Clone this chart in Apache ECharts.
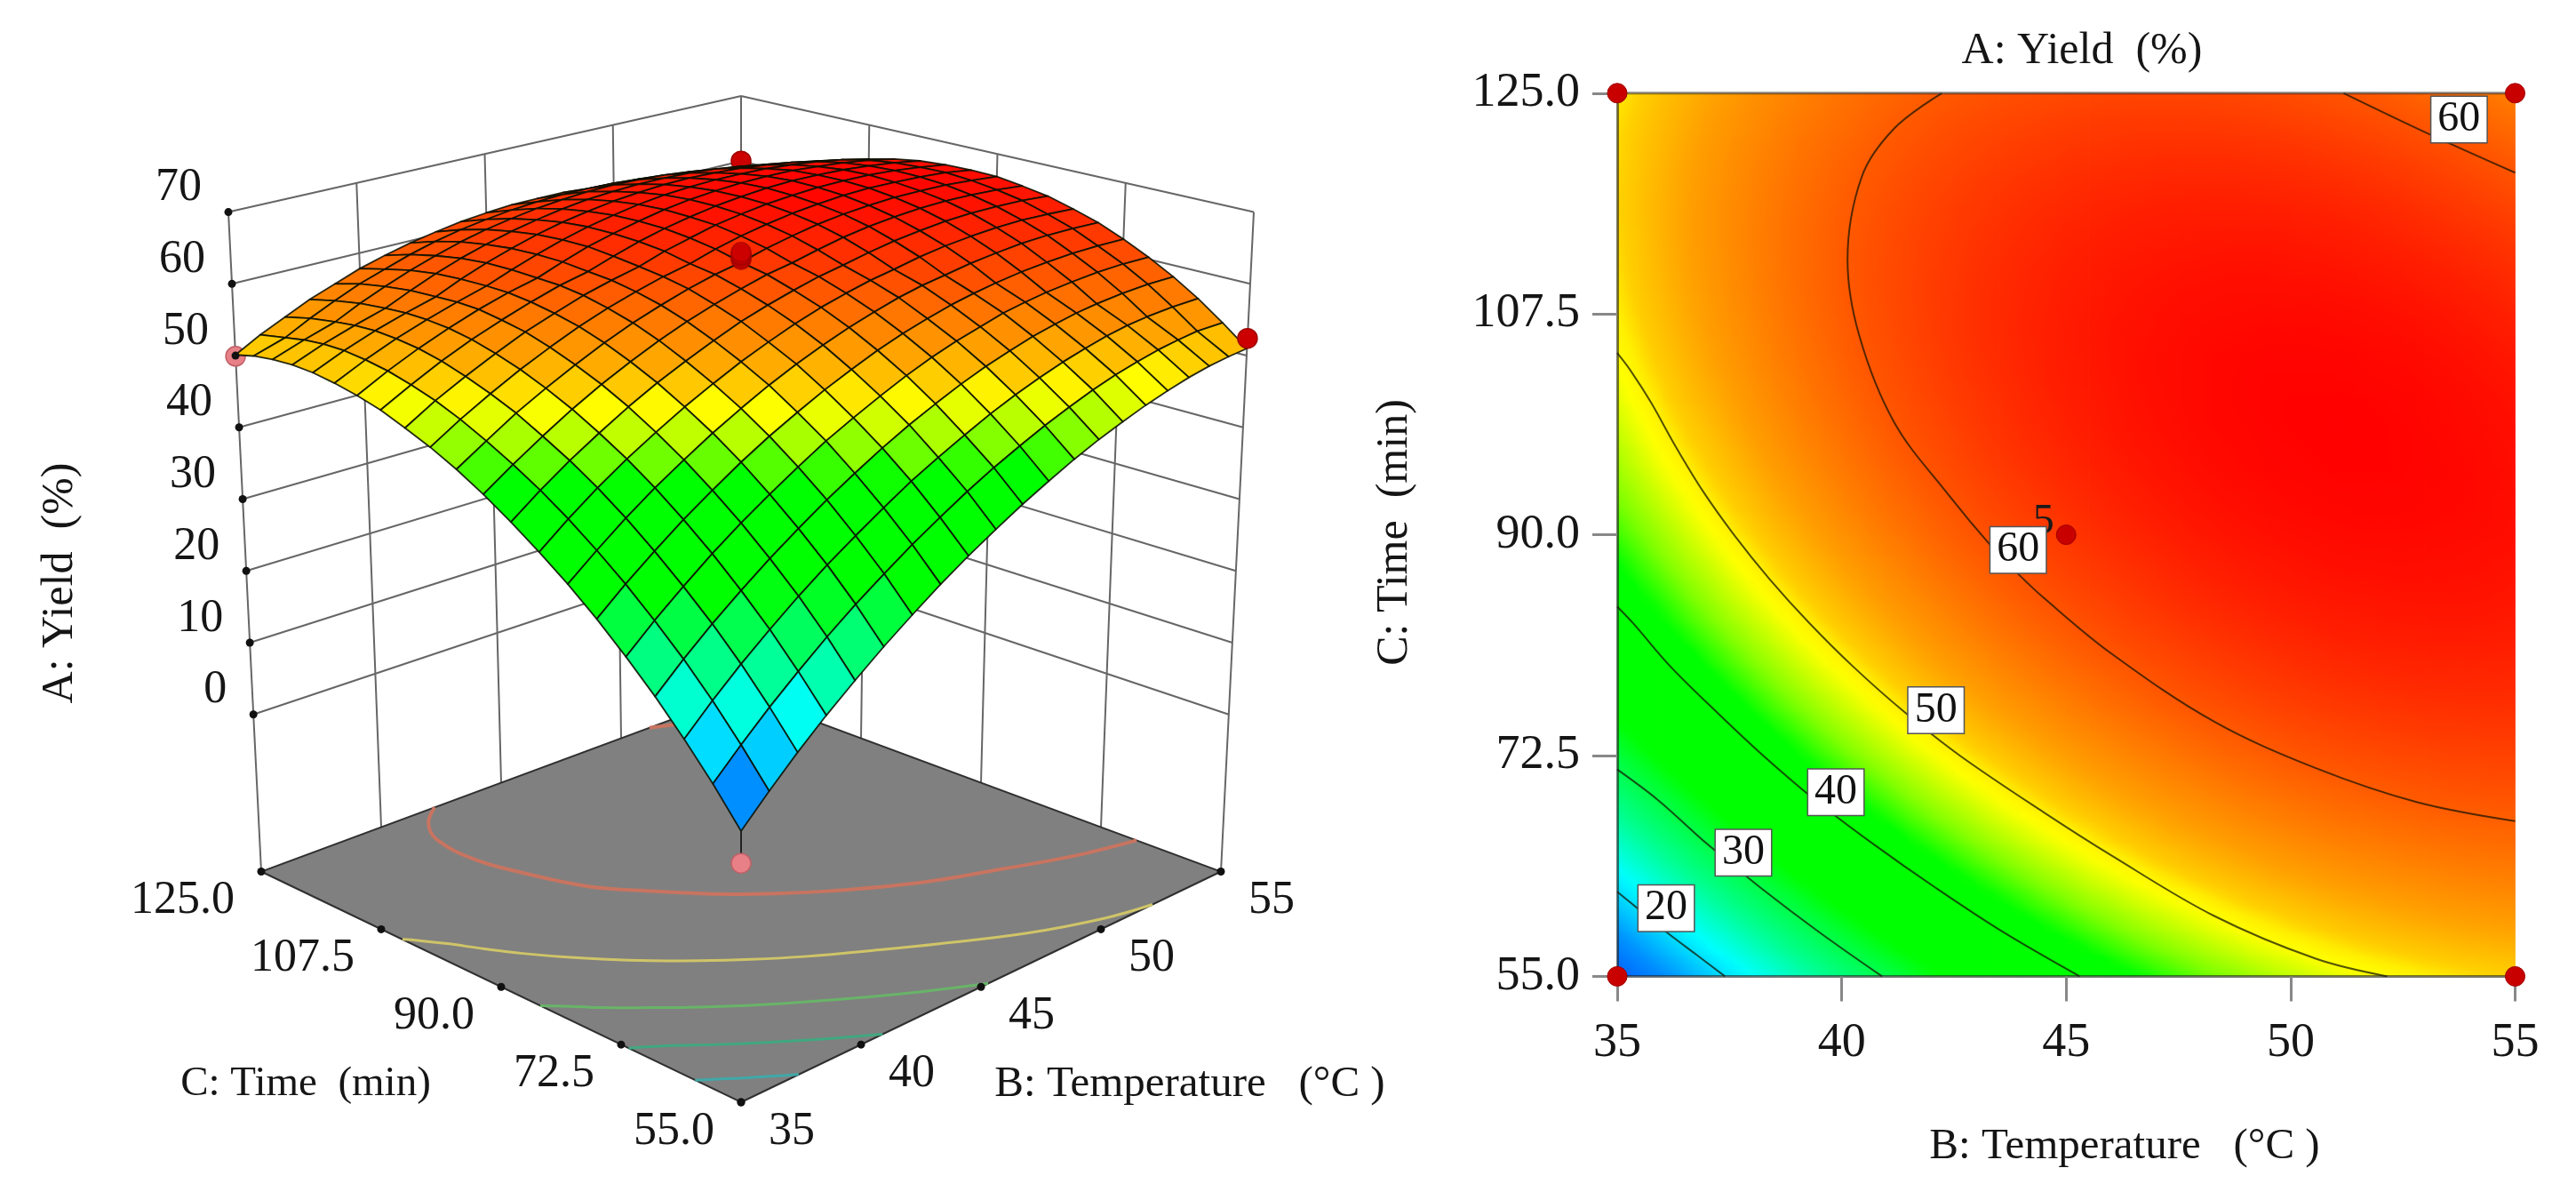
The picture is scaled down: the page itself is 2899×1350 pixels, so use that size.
<!DOCTYPE html>
<html>
<head>
<meta charset="utf-8">
<style>html,body{margin:0;padding:0;background:#fff}#c{width:2899px;height:1350px}</style>
<script src="https://cdn.jsdelivr.net/npm/echarts@6/dist/echarts.min.js"></script>
</head>
<body>
<div id="c"></div>
<script>
// ---------- values ----------
const tempTicks = [35, 40, 45, 50, 55];
const timeTicks = [55.0, 72.5, 90.0, 107.5, 125.0];
const yieldTicks = [0, 10, 20, 30, 40, 50, 60, 70];

// Yield (%) on a 41 x 41 lattice: rows run Time 55 -> 125 (step 1.75), columns Temperature 35 -> 55 (step 0.5)
const yieldGrid = [
[11.0,12.8,14.5,16.2,17.9,19.5,21.1,22.6,24.1,25.6,27.0,28.4,29.7,31.0,32.3,33.5,34.7,35.8,36.9,38.0,39.0,40.0,40.9,41.8,42.7,43.5,44.3,45.0,45.7,46.4,47.0,47.6,48.1,48.6,49.1,49.5,49.9,50.2,50.5,50.8,51.0],
[13.2,15.0,16.7,18.4,20.0,21.6,23.2,24.7,26.2,27.6,29.0,30.4,31.7,33.0,34.2,35.4,36.6,37.7,38.8,39.8,40.8,41.8,42.7,43.6,44.4,45.2,46.0,46.7,47.4,48.0,48.6,49.2,49.7,50.2,50.6,51.0,51.4,51.7,52.0,52.2,52.4],
[15.4,17.1,18.8,20.5,22.1,23.7,25.2,26.7,28.2,29.6,31.0,32.3,33.6,34.9,36.1,37.3,38.4,39.5,40.6,41.6,42.6,43.5,44.4,45.3,46.1,46.9,47.6,48.3,49.0,49.6,50.2,50.7,51.2,51.7,52.1,52.5,52.8,53.1,53.4,53.6,53.7],
[17.5,19.2,20.9,22.5,24.1,25.7,27.2,28.7,30.1,31.5,32.9,34.2,35.5,36.7,37.9,39.0,40.2,41.2,42.3,43.3,44.2,45.2,46.0,46.9,47.7,48.4,49.1,49.8,50.5,51.0,51.6,52.1,52.6,53.0,53.4,53.8,54.1,54.4,54.6,54.8,55.0],
[19.5,21.2,22.9,24.5,26.1,27.6,29.1,30.6,32.0,33.4,34.7,36.0,37.2,38.5,39.6,40.8,41.9,42.9,43.9,44.9,45.8,46.8,47.6,48.4,49.2,49.9,50.6,51.3,51.9,52.5,53.0,53.5,54.0,54.4,54.8,55.1,55.4,55.7,55.9,56.1,56.2],
[21.5,23.2,24.8,26.4,28.0,29.5,31.0,32.4,33.8,35.1,36.5,37.7,39.0,40.2,41.3,42.4,43.5,44.5,45.5,46.5,47.4,48.3,49.1,49.9,50.7,51.4,52.1,52.7,53.3,53.9,54.4,54.8,55.3,55.7,56.0,56.4,56.6,56.9,57.1,57.2,57.3],
[23.4,25.0,26.7,28.2,29.8,31.3,32.7,34.1,35.5,36.8,38.1,39.4,40.6,41.8,42.9,44.0,45.1,46.1,47.1,48.0,48.9,49.7,50.6,51.3,52.1,52.8,53.4,54.0,54.6,55.1,55.6,56.1,56.5,56.9,57.2,57.5,57.8,58.0,58.2,58.3,58.4],
[25.2,26.9,28.5,30.0,31.5,33.0,34.4,35.8,37.2,38.5,39.8,41.0,42.2,43.4,44.5,45.5,46.6,47.6,48.5,49.4,50.3,51.1,51.9,52.7,53.4,54.1,54.7,55.3,55.9,56.4,56.9,57.3,57.7,58.0,58.3,58.6,58.9,59.1,59.2,59.3,59.4],
[27.0,28.6,30.2,31.7,33.2,34.7,36.1,37.5,38.8,40.1,41.3,42.6,43.7,44.9,46.0,47.0,48.0,49.0,49.9,50.8,51.7,52.5,53.3,54.0,54.7,55.3,55.9,56.5,57.1,57.5,58.0,58.4,58.8,59.1,59.4,59.7,59.9,60.1,60.2,60.3,60.3],
[28.7,30.3,31.9,33.4,34.9,36.3,37.7,39.0,40.3,41.6,42.8,44.0,45.2,46.3,47.4,48.4,49.4,50.3,51.3,52.1,53.0,53.8,54.5,55.2,55.9,56.5,57.1,57.7,58.2,58.7,59.1,59.5,59.8,60.1,60.4,60.6,60.8,61.0,61.1,61.2,61.2],
[30.4,32.0,33.5,35.0,36.4,37.8,39.2,40.5,41.8,43.1,44.3,45.5,46.6,47.7,48.7,49.7,50.7,51.6,52.5,53.4,54.2,55.0,55.7,56.4,57.0,57.7,58.2,58.8,59.2,59.7,60.1,60.5,60.8,61.1,61.3,61.6,61.7,61.9,61.9,62.0,62.0],
[32.0,33.5,35.0,36.5,37.9,39.3,40.7,42.0,43.2,44.5,45.7,46.8,47.9,49.0,50.0,51.0,52.0,52.9,53.7,54.6,55.4,56.1,56.8,57.5,58.1,58.7,59.3,59.8,60.2,60.7,61.1,61.4,61.7,62.0,62.2,62.4,62.6,62.7,62.7,62.8,62.8],
[33.5,35.0,36.5,38.0,39.4,40.7,42.1,43.4,44.6,45.8,47.0,48.1,49.2,50.3,51.3,52.2,53.2,54.1,54.9,55.7,56.5,57.2,57.9,58.5,59.2,59.7,60.3,60.7,61.2,61.6,62.0,62.3,62.6,62.8,63.1,63.2,63.4,63.4,63.5,63.5,63.5],
[34.9,36.5,37.9,39.4,40.7,42.1,43.4,44.7,45.9,47.1,48.2,49.3,50.4,51.4,52.4,53.4,54.3,55.2,56.0,56.8,57.5,58.2,58.9,59.5,60.1,60.7,61.2,61.6,62.1,62.5,62.8,63.1,63.4,63.6,63.8,64.0,64.1,64.1,64.2,64.2,64.1],
[36.3,37.8,39.3,40.7,42.1,43.4,44.7,45.9,47.1,48.3,49.4,50.5,51.5,52.6,53.5,54.4,55.3,56.2,57.0,57.8,58.5,59.2,59.8,60.4,61.0,61.5,62.0,62.5,62.9,63.2,63.6,63.9,64.1,64.3,64.5,64.6,64.7,64.7,64.7,64.7,64.6],
[37.7,39.1,40.6,41.9,43.3,44.6,45.9,47.1,48.3,49.4,50.5,51.6,52.6,53.6,54.6,55.5,56.3,57.2,57.9,58.7,59.4,60.1,60.7,61.3,61.8,62.3,62.8,63.2,63.6,64.0,64.3,64.5,64.8,64.9,65.1,65.2,65.3,65.3,65.3,65.2,65.1],
[38.9,40.4,41.8,43.2,44.5,45.8,47.0,48.2,49.4,50.5,51.6,52.6,53.6,54.6,55.5,56.4,57.3,58.1,58.8,59.6,60.2,60.9,61.5,62.1,62.6,63.1,63.5,63.9,64.3,64.6,64.9,65.2,65.4,65.5,65.7,65.7,65.8,65.8,65.8,65.7,65.6],
[40.1,41.6,42.9,44.3,45.6,46.9,48.1,49.3,50.4,51.5,52.6,53.6,54.6,55.5,56.4,57.3,58.1,58.9,59.7,60.4,61.0,61.7,62.2,62.8,63.3,63.8,64.2,64.6,64.9,65.2,65.5,65.7,65.9,66.0,66.1,66.2,66.2,66.2,66.2,66.1,65.9],
[41.3,42.7,44.0,45.4,46.6,47.9,49.1,50.3,51.4,52.5,53.5,54.5,55.5,56.4,57.3,58.1,58.9,59.7,60.4,61.1,61.8,62.4,62.9,63.4,63.9,64.4,64.8,65.1,65.5,65.7,66.0,66.2,66.4,66.5,66.6,66.6,66.6,66.6,66.5,66.4,66.2],
[42.3,43.7,45.1,46.4,47.6,48.9,50.0,51.2,52.3,53.3,54.4,55.4,56.3,57.2,58.1,58.9,59.7,60.4,61.1,61.8,62.4,63.0,63.5,64.0,64.5,64.9,65.3,65.6,65.9,66.2,66.4,66.6,66.8,66.9,66.9,67.0,66.9,66.9,66.8,66.6,66.5],
[43.4,44.7,46.0,47.3,48.6,49.8,50.9,52.1,53.1,54.2,55.2,56.1,57.1,57.9,58.8,59.6,60.4,61.1,61.8,62.4,63.0,63.6,64.1,64.6,65.0,65.4,65.8,66.1,66.4,66.6,66.8,67.0,67.1,67.2,67.2,67.2,67.2,67.1,67.0,66.9,66.7],
[44.3,45.6,46.9,48.2,49.4,50.6,51.8,52.9,53.9,54.9,55.9,56.9,57.8,58.6,59.4,60.2,61.0,61.7,62.3,62.9,63.5,64.1,64.6,65.0,65.5,65.8,66.2,66.5,66.7,67.0,67.2,67.3,67.4,67.5,67.5,67.5,67.4,67.3,67.2,67.0,66.8],
[45.2,46.5,47.8,49.0,50.2,51.4,52.5,53.6,54.6,55.6,56.6,57.5,58.4,59.2,60.0,60.8,61.5,62.2,62.8,63.4,64.0,64.5,65.0,65.4,65.8,66.2,66.5,66.8,67.0,67.2,67.4,67.5,67.6,67.6,67.6,67.6,67.5,67.4,67.3,67.1,66.8],
[46.0,47.3,48.6,49.8,51.0,52.1,53.2,54.3,55.3,56.3,57.2,58.1,59.0,59.8,60.6,61.3,62.0,62.7,63.3,63.9,64.4,64.9,65.4,65.8,66.2,66.5,66.8,67.1,67.3,67.5,67.6,67.7,67.8,67.8,67.8,67.7,67.6,67.5,67.3,67.1,66.8],
[46.7,48.0,49.3,50.5,51.6,52.7,53.8,54.9,55.9,56.8,57.7,58.6,59.5,60.3,61.0,61.7,62.4,63.1,63.7,64.2,64.7,65.2,65.7,66.1,66.4,66.7,67.0,67.2,67.4,67.6,67.7,67.8,67.8,67.8,67.8,67.7,67.6,67.4,67.2,67.0,66.7],
[47.4,48.7,49.9,51.1,52.2,53.3,54.4,55.4,56.4,57.3,58.2,59.1,59.9,60.7,61.4,62.1,62.8,63.4,64.0,64.5,65.0,65.5,65.9,66.3,66.6,66.9,67.2,67.4,67.5,67.7,67.8,67.8,67.9,67.8,67.8,67.7,67.5,67.3,67.1,66.9,66.6],
[48.1,49.3,50.5,51.7,52.8,53.8,54.9,55.9,56.8,57.8,58.6,59.5,60.3,61.0,61.7,62.4,63.0,63.6,64.2,64.7,65.2,65.6,66.0,66.4,66.7,67.0,67.2,67.4,67.6,67.7,67.8,67.8,67.8,67.8,67.7,67.6,67.4,67.2,67.0,66.7,66.4],
[48.6,49.8,51.0,52.2,53.2,54.3,55.3,56.3,57.2,58.1,59.0,59.8,60.6,61.3,62.0,62.7,63.3,63.9,64.4,64.9,65.4,65.8,66.1,66.5,66.8,67.0,67.2,67.4,67.6,67.7,67.7,67.7,67.7,67.6,67.5,67.4,67.2,67.0,66.7,66.4,66.1],
[49.1,50.3,51.5,52.6,53.7,54.7,55.7,56.7,57.6,58.4,59.3,60.1,60.8,61.5,62.2,62.9,63.5,64.0,64.5,65.0,65.4,65.8,66.2,66.5,66.8,67.0,67.2,67.4,67.5,67.6,67.6,67.6,67.6,67.5,67.3,67.2,67.0,66.7,66.5,66.1,65.8],
[49.6,50.7,51.9,53.0,54.0,55.0,56.0,56.9,57.8,58.7,59.5,60.3,61.0,61.7,62.4,63.0,63.6,64.1,64.6,65.0,65.5,65.8,66.2,66.5,66.7,66.9,67.1,67.2,67.3,67.4,67.4,67.4,67.3,67.2,67.1,66.9,66.6,66.4,66.1,65.7,65.3],
[49.9,51.1,52.2,53.3,54.3,55.3,56.2,57.2,58.0,58.9,59.7,60.4,61.1,61.8,62.4,63.0,63.6,64.1,64.6,65.0,65.4,65.8,66.1,66.3,66.6,66.8,66.9,67.0,67.1,67.2,67.1,67.1,67.0,66.9,66.7,66.5,66.3,66.0,65.7,65.3,64.9],
[50.2,51.4,52.5,53.5,54.5,55.5,56.4,57.3,58.2,59.0,59.8,60.5,61.2,61.8,62.5,63.0,63.6,64.1,64.5,64.9,65.3,65.6,65.9,66.2,66.4,66.6,66.7,66.8,66.8,66.8,66.8,66.8,66.6,66.5,66.3,66.1,65.8,65.5,65.2,64.8,64.3],
[50.5,51.6,52.7,53.7,54.7,55.6,56.5,57.4,58.2,59.0,59.8,60.5,61.2,61.8,62.4,62.9,63.5,63.9,64.4,64.8,65.1,65.4,65.7,65.9,66.1,66.3,66.4,66.5,66.5,66.5,66.4,66.3,66.2,66.0,65.8,65.6,65.3,65.0,64.6,64.2,63.8],
[50.6,51.7,52.8,53.8,54.8,55.7,56.6,57.4,58.3,59.0,59.8,60.5,61.1,61.7,62.3,62.8,63.3,63.8,64.2,64.5,64.9,65.2,65.4,65.6,65.8,65.9,66.0,66.1,66.1,66.1,66.0,65.9,65.7,65.5,65.3,65.0,64.7,64.4,64.0,63.6,63.1],
[50.8,51.8,52.9,53.9,54.8,55.7,56.6,57.4,58.2,59.0,59.7,60.3,61.0,61.6,62.1,62.6,63.1,63.5,63.9,64.3,64.6,64.8,65.1,65.3,65.4,65.5,65.6,65.6,65.6,65.6,65.5,65.3,65.2,65.0,64.7,64.4,64.1,63.7,63.3,62.9,62.4],
[50.8,51.9,52.9,53.8,54.8,55.7,56.5,57.3,58.1,58.8,59.5,60.2,60.8,61.3,61.9,62.4,62.8,63.2,63.6,63.9,64.2,64.5,64.7,64.8,65.0,65.1,65.1,65.1,65.1,65.0,64.9,64.8,64.6,64.3,64.1,63.8,63.4,63.0,62.6,62.1,61.6],
[50.8,51.8,52.8,53.8,54.7,55.5,56.4,57.2,57.9,58.6,59.3,59.9,60.5,61.1,61.6,62.0,62.5,62.9,63.2,63.5,63.8,64.0,64.2,64.3,64.5,64.5,64.6,64.5,64.5,64.4,64.3,64.1,63.9,63.6,63.3,63.0,62.6,62.2,61.8,61.3,60.7],
[50.7,51.7,52.7,53.6,54.5,55.4,56.2,56.9,57.7,58.3,59.0,59.6,60.2,60.7,61.2,61.6,62.0,62.4,62.7,63.0,63.3,63.5,63.6,63.8,63.9,63.9,63.9,63.9,63.8,63.7,63.6,63.4,63.1,62.9,62.6,62.2,61.8,61.4,60.9,60.4,59.8],
[50.6,51.6,52.5,53.4,54.3,55.1,55.9,56.6,57.4,58.0,58.6,59.2,59.8,60.3,60.8,61.2,61.6,61.9,62.2,62.5,62.7,62.9,63.0,63.2,63.2,63.2,63.2,63.2,63.1,63.0,62.8,62.6,62.3,62.0,61.7,61.3,60.9,60.5,60.0,59.4,58.9],
[50.4,51.3,52.3,53.1,54.0,54.8,55.6,56.3,57.0,57.6,58.2,58.8,59.3,59.8,60.3,60.7,61.0,61.4,61.6,61.9,62.1,62.3,62.4,62.5,62.5,62.5,62.5,62.4,62.3,62.1,61.9,61.7,61.4,61.1,60.8,60.4,59.9,59.5,59.0,58.4,57.8],
[50.1,51.0,52.0,52.8,53.6,54.4,55.2,55.9,56.5,57.2,57.8,58.3,58.8,59.3,59.7,60.1,60.4,60.7,61.0,61.2,61.4,61.5,61.7,61.7,61.7,61.7,61.7,61.6,61.4,61.3,61.1,60.8,60.5,60.2,59.8,59.4,58.9,58.4,57.9,57.3,56.7]
];

const contourLevels = [20, 30, 40, 50, 60, 60];
const contourTemps = [
  [37.4, 36.75, 36.1, 35.5, 35],
  [40.9, 39.5, 38.2, 37.0, 35.9, 35],
  [45.3, 43.6, 42.1, 40.7, 39.4, 38.25, 37.2, 36.2, 35.35, 35],
  [52.15, 50.56, 48.29, 46, 44.5, 42.63, 41.38, 40.27, 39.28, 38.39, 37.6, 36.9, 36.3, 35.75, 35.3, 35],
  [42.23, 41.17, 40.45, 40.13, 40.39, 41.17, 42.37, 43.33, 43.93, 44.5, 46, 48.29, 50.56, 52.82, 55],
  [51.18, 53, 55]
];
const contourTimes = [
  [55, 56.75, 58.5, 60.25, 61.7],
  [55, 58.5, 62, 65.5, 69, 71.4],
  [55, 58.5, 62, 65.5, 69, 72.5, 76, 79.5, 83, 84.3],
  [55, 56.4, 59.8, 64.6, 68, 72.5, 76, 79.5, 83, 86.5, 90, 93.5, 97, 100.5, 103, 104.4],
  [125, 122.2, 118.4, 111.8, 105.8, 98.9, 93.2, 89.1, 86.9, 85, 80.6, 75.2, 71.5, 68.8, 67.3],
  [125, 121.9, 118.7]
];
const labelLevels = [20, 30, 40, 50, 60, 60];
const labelTemps = [36.09, 37.81, 39.87, 42.1, 43.93, 53.75];
const labelTimes = [60.4, 64.8, 69.6, 76.1, 88.8, 122.9];

const designTemps = [35, 35, 55, 55, 45, 45, 45, 45, 45];
const designTimes = [55, 125, 55, 125, 90, 90, 90, 90, 90];
const designYields = [7.1, 49.9, 52.4, 60, 63.4, 63.6, 63.9, 64.1, 64.4];
const designAboveSurface = [false, false, true, true, true, true, true, true, true];
const designInFront = [true, false, true, false, true, true, true, true, true];

const colorLevels = [11, 15, 18, 21, 26, 31, 33, 42, 45, 49, 50, 51, 54, 60, 65, 68];
const colorValues = ['#0060ff', '#0090ff', '#00c8ff', '#00ffff', '#00ff90', '#00ff30', '#00ff00', '#00ff00', '#80ff00', '#ffff00', '#fff000', '#ffd000', '#ffa000', '#ff5800', '#ff2000', '#ff0000'];
const floorLineColors = ['#40a8a8', '#40a880', '#68b468', '#cfc468', '#c87460', '#c87460'];

// ---------- helpers ----------
const FONT = '"Liberation Serif","Times New Roman",serif';
const FLOOR_Z = -21.9;
function hexRgb(h) { return [1, 3, 5].map(k => parseInt(h.substr(k, 2), 16)); }
function yieldColor(v) {
  if (v <= colorLevels[0]) return colorValues[0];
  for (let k = 1; k < colorLevels.length; k++) {
    if (v <= colorLevels[k]) {
      const f = (v - colorLevels[k - 1]) / (colorLevels[k] - colorLevels[k - 1]);
      const a = hexRgb(colorValues[k - 1]), b = hexRgb(colorValues[k]);
      return 'rgb(' + a.map((c, n) => Math.round(c + (b[n] - c) * f)).join(',') + ')';
    }
  }
  return colorValues[colorValues.length - 1];
}
// view of the response-surface box: data -> scene position of the hidden full-canvas axes
function project(T, t, z) {
  const x = (T - 45) / 10, y = (t - 90) / 35;
  const p = (x - y) / 2, q = (x + y) / 2, h = (z - FLOOR_Z) / (70 - FLOOR_Z);
  const A = 540 + 37 * h, Y = 980.5 - 741.9 * h;
  if (q >= 0) return [834 + A * p, Y - q * (200 - 69.4 * h)];
  const a = -q;
  return [834 + A * p * (1 + 0.37 * h * a), Y + a * (259.5 - 200 * h) + a * a * 90 * h];
}
const tempAt = i => 35 + i * 0.5;
const timeAt = j => 55 + j * 1.75;

// ---------- derived lists ----------
const heatData = [];
for (let j = 0; j < 40; j++) for (let i = 0; i < 40; i++) heatData.push([tempAt(i), timeAt(j), i, j]);

const quadData = [];
for (let j = 0; j < 40; j += 2) for (let i = 0; i < 40; i += 2) quadData.push([i, j]);
quadData.sort((a, b) => (b[0] + b[1]) - (a[0] + a[1]));

const wallLines = [];
yieldTicks.forEach(z => {
  wallLines.push([35, 125, z, 55, 125, z]);
  wallLines.push([55, 125, z, 55, 55, z]);
});
tempTicks.forEach(T => wallLines.push([T, 125, 70, T, 125, FLOOR_Z]));
timeTicks.slice(0, 4).forEach(t => wallLines.push([55, t, 70, 55, t, FLOOR_Z]));

const tickDots = [];
yieldTicks.forEach(z => tickDots.push([35, 125, z]));
tempTicks.forEach(T => tickDots.push([T, 55, FLOOR_Z]));
timeTicks.forEach(t => tickDots.push([35, t, FLOOR_Z]));

const sceneLabels = [];
yieldTicks.forEach(z => sceneLabels.push([35, 125, z, String(z), -30, -27, 'right']));
tempTicks.forEach(T => sceneLabels.push([T, 55, FLOOR_Z, String(T), 31, 33, 'left']));
timeTicks.forEach(t => sceneLabels.push([35, t, FLOOR_Z, t.toFixed(1), -30, 33, 'right']));

function designDots(front) {
  const out = [];
  designTemps.forEach((T, k) => { if (designInFront[k] === front) out.push(k); });
  return out;
}
function renderDesignDot(params, api) {
  const k = api.value(0);
  const c = api.coord(project(designTemps[k], designTimes[k], designYields[k]));
  const above = designAboveSurface[k];
  return { type: 'circle', shape: { cx: c[0], cy: c[1], r: 11 },
    style: { fill: above ? '#cc0000' : '#e88088', stroke: above ? '#a00000' : '#c06068', lineWidth: 1.5, opacity: above && designTemps[k] === 45 ? 0.75 : 1 } };
}
// a map cell shaded between the yields at its four corners
function cellFill(a, b, c, d) {
  const gx = ((b - a) + (d - c)) / 2, gy = ((c - a) + (d - b)) / 2;
  const spread = Math.abs(gx) + Math.abs(gy), mid = (a + b + c + d) / 4;
  if (spread < 1e-6) return yieldColor(mid);
  const mag = Math.hypot(gx, gy);
  const L = spread / (2 * mag), nx = gx / mag, ny = gy / mag;
  const stops = [0, 0.25, 0.5, 0.75, 1].map(s => ({ offset: s, color: yieldColor(mid + (s - 0.5) * spread) }));
  return new echarts.graphic.LinearGradient(0.5 - nx * L, 0.5 - ny * L, 0.5 + nx * L, 0.5 + ny * L, stops);
}

const series = [
  { type: 'custom', name: 'walls', xAxisIndex: 0, yAxisIndex: 0, silent: true, clip: false, z: 1, data: wallLines,
    renderItem(params, api) {
      const a = api.coord(project(api.value(0), api.value(1), api.value(2)));
      const b = api.coord(project(api.value(3), api.value(4), api.value(5)));
      return { type: 'line', shape: { x1: a[0], y1: a[1], x2: b[0], y2: b[1] }, style: { stroke: '#666', lineWidth: 2 } };
    } },
  { type: 'custom', name: 'floor', xAxisIndex: 0, yAxisIndex: 0, silent: true, clip: false, z: 2, data: [[0]],
    renderItem(params, api) {
      const pts = [[35, 55], [55, 55], [55, 125], [35, 125]].map(c => api.coord(project(c[0], c[1], FLOOR_Z)));
      return { type: 'polygon', shape: { points: pts }, style: { fill: '#808080', stroke: '#303030', lineWidth: 2 } };
    } },
  { type: 'custom', name: 'floor contours', xAxisIndex: 0, yAxisIndex: 0, silent: true, clip: false, z: 3, data: contourLevels.map((v, k) => [k]),
    renderItem(params, api) {
      const k = api.value(0);
      const pts = contourTemps[k].map((T, n) => api.coord(project(T, contourTimes[k][n], FLOOR_Z)));
      return { type: 'polyline', shape: { points: pts, smooth: 0.4 }, style: { stroke: floorLineColors[k], lineWidth: k >= 4 ? 4 : 3, fill: null } };
    } },
  { type: 'custom', name: 'design points behind', xAxisIndex: 0, yAxisIndex: 0, silent: true, clip: false, z: 4, data: designDots(false).map(k => [k]), renderItem: renderDesignDot },
  { type: 'custom', name: 'surface', xAxisIndex: 0, yAxisIndex: 0, silent: true, clip: false, z: 5, progressive: 0, data: quadData,
    renderItem(params, api) {
      const i = api.value(0), j = api.value(1);
      const nodes = [[i, j], [i + 2, j], [i + 2, j + 2], [i, j + 2]];
      let sum = 0;
      const pts = nodes.map(n => {
        const v = yieldGrid[n[1]][n[0]];
        sum += v;
        return api.coord(project(tempAt(n[0]), timeAt(n[1]), v));
      });
      return { type: 'polygon', shape: { points: pts }, style: { fill: yieldColor(sum / 4), stroke: 'rgba(10,15,0,0.88)', lineWidth: 1.8, lineJoin: 'round' } };
    } },
  { type: 'custom', name: 'design stems', xAxisIndex: 0, yAxisIndex: 0, silent: true, clip: false, z: 6, data: [[0]],
    renderItem(params, api) {
      const a = api.coord(project(designTemps[0], designTimes[0], designYields[0]));
      const b = api.coord(project(designTemps[0], designTimes[0], yieldGrid[0][0]));
      return { type: 'line', shape: { x1: a[0], y1: a[1], x2: b[0], y2: b[1] }, style: { stroke: '#222', lineWidth: 2 } };
    } },
  { type: 'custom', name: 'design points front', xAxisIndex: 0, yAxisIndex: 0, silent: true, clip: false, z: 7, data: designDots(true).map(k => [k]), renderItem: renderDesignDot },
  { type: 'custom', name: 'tick dots', xAxisIndex: 0, yAxisIndex: 0, silent: true, clip: false, z: 8, data: tickDots,
    renderItem(params, api) {
      const c = api.coord(project(api.value(0), api.value(1), api.value(2)));
      return { type: 'circle', shape: { cx: c[0], cy: c[1], r: 4.5 }, style: { fill: '#111' } };
    } },
  { type: 'custom', name: 'box tick labels', xAxisIndex: 0, yAxisIndex: 0, silent: true, clip: false, z: 8, data: sceneLabels.map((l, k) => [k]),
    renderItem(params, api) {
      const l = sceneLabels[api.value(0)];
      const c = api.coord(project(l[0], l[1], l[2]));
      return { type: 'text', x: c[0] + l[4], y: c[1] + l[5],
        style: { text: l[3], font: '52px ' + FONT, fill: '#151515', align: l[6], textAlign: l[6], verticalAlign: 'middle', textVerticalAlign: 'middle' } };
    } },

  // ---------- right panel ----------
  { type: 'custom', name: 'Yield map', xAxisIndex: 1, yAxisIndex: 1, silent: true, clip: true, z: 2, progressive: 0, data: heatData,
    renderItem(params, api) {
      const T = api.value(0), t = api.value(1), i = api.value(2), j = api.value(3);
      const p0 = api.coord([T, t + 1.75]), p1 = api.coord([T + 0.5, t]);
      return { type: 'rect', shape: { x: p0[0] - 0.4, y: p0[1] - 0.4, width: p1[0] - p0[0] + 0.8, height: p1[1] - p0[1] + 0.8 },
        style: { fill: cellFill(yieldGrid[j + 1][i], yieldGrid[j + 1][i + 1], yieldGrid[j][i], yieldGrid[j][i + 1]) } };
    } }
];
contourLevels.forEach((lv, k) => {
  series.push({ type: 'line', name: 'contour ' + lv, xAxisIndex: 1, yAxisIndex: 1, silent: true, z: 3, showSymbol: false, symbol: 'none', smooth: 0.35,
    lineStyle: { color: 'rgba(20,20,0,0.72)', width: 2 },
    data: contourTemps[k].map((T, n) => [T, contourTimes[k][n]]) });
});
series.push({ type: 'line', name: 'frame top', xAxisIndex: 1, yAxisIndex: 1, silent: true, z: 4, showSymbol: false, symbol: 'none', clip: false,
  lineStyle: { color: 'rgba(40,40,40,0.55)', width: 3 }, data: [[35, 125], [55, 125]] });
series.push({ type: 'scatter', name: 'design points', xAxisIndex: 1, yAxisIndex: 1, silent: true, z: 12, clip: false, symbolSize: 22,
  itemStyle: { color: '#c80000', borderColor: '#a00000', borderWidth: 1, opacity: 1 },
  label: { show: true, position: 'left', distance: 2, offset: [0, -14], fontFamily: FONT, fontSize: 48, color: '#1a1a1a',
    formatter: p => (p.dataIndex === 4 ? '5' : '') },
  data: designTemps.slice(0, 5).map((T, k) => [T, designTimes[k]]) });
series.push({ type: 'scatter', name: 'contour labels', xAxisIndex: 1, yAxisIndex: 1, silent: true, z: 13, clip: false, symbolSize: 0,
  itemStyle: { opacity: 1 },
  label: { show: true, position: 'inside', fontFamily: FONT, fontSize: 48, color: '#111', backgroundColor: '#fff', borderColor: '#555', borderWidth: 1.5, padding: [3, 7, 0, 7], lineHeight: 48,
    formatter: p => String(p.value[2]) },
  data: labelTemps.map((T, k) => [T, labelTimes[k], labelLevels[k]]) });

function txt(text, x, y, size, rot) {
  return { type: 'text', x, y, rotation: rot || 0, z: 20, silent: true,
    style: { text, font: size + 'px ' + FONT, fill: '#151515', align: 'center', textAlign: 'center', verticalAlign: 'middle', textVerticalAlign: 'middle' } };
}

const option = {
  animation: false,
  backgroundColor: '#fff',
  grid: [
    { left: 0, top: 0, width: 2899, height: 1350, show: false },
    { left: 1820, top: 104.8, width: 1010.5, height: 993.6, show: false }
  ],
  xAxis: [
    { gridIndex: 0, type: 'value', min: 0, max: 2899, show: false },
    { gridIndex: 1, type: 'value', min: 35, max: 55, interval: 5, z: 10, splitLine: { show: false },
      axisLine: { show: true, onZero: false, lineStyle: { color: 'rgba(30,30,30,0.6)', width: 3 } },
      axisTick: { show: true, length: 28, lineStyle: { color: '#888', width: 3 } },
      axisLabel: { fontFamily: FONT, fontSize: 54, color: '#151515', margin: 48 } }
  ],
  yAxis: [
    { gridIndex: 0, type: 'value', min: 0, max: 1350, inverse: true, show: false },
    { gridIndex: 1, type: 'value', min: 55, max: 125, z: 10, splitLine: { show: false },
      axisLine: { show: true, onZero: false, lineStyle: { color: 'rgba(30,30,30,0.6)', width: 3 } },
      axisTick: { show: true, length: 28, customValues: timeTicks, lineStyle: { color: '#888', width: 3 } },
      axisLabel: { fontFamily: FONT, fontSize: 54, color: '#151515', margin: 42, customValues: timeTicks, formatter: v => Number(v).toFixed(1) } }
  ],
  graphic: { elements: [
    txt('A: Yield  (%)', 68, 656, 50, Math.PI / 2),
    txt('C: Time  (min)', 344, 1220, 47),
    txt('B: Temperature   (°C )', 1339, 1220, 49),
    txt('A: Yield  (%)', 2343, 58, 50),
    txt('C: Time  (min)', 1570, 599, 50, Math.PI / 2),
    txt('B: Temperature   (°C )', 2391, 1290, 49)
  ] },
  series
};
const chart = echarts.init(document.getElementById('c'), null, { renderer: 'canvas', width: 2899, height: 1350 });
chart.setOption(option);
</script>
</body>
</html>
